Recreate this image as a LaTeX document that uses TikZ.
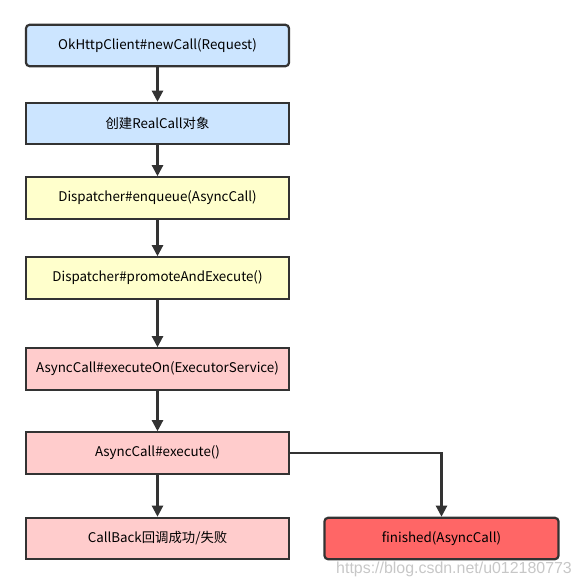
\documentclass[tikz,border=0pt]{standalone}
\usepackage{fontspec}
\setmainfont{Noto Sans CJK SC}
\newfontfamily\wmfont{Liberation Sans}
\usetikzlibrary{arrows.meta}
\definecolor{callblue}{HTML}{CCE5FF}
\definecolor{dispyellow}{HTML}{FFFFCC}
\definecolor{asyncpink}{HTML}{FFCCCC}
\definecolor{finishred}{HTML}{FF6666}
\definecolor{edge}{HTML}{333333}
\begin{document}
\begin{tikzpicture}[x=0.3mm,y=-0.3mm,
  box/.style={draw=edge, line width=1.9pt, minimum width=78.9mm, minimum height=12.4mm, font=\fontsize{11.4}{13}\selectfont, inner sep=0pt},
  flow/.style={draw=edge, line width=1.9pt, -{Triangle[length=3.3mm,width=3.3mm]}}]
\useasboundingbox (0,0) rectangle (583,586);
\node[box, rounded corners=3pt, fill=callblue] (a) at (157.5,45.5) {OkHttpClient\#newCall(Request)};
\node[box, fill=callblue] (b) at (157.5,123.5) {创建RealCall对象};
\node[box, fill=dispyellow] (c) at (157.5,198) {Dispatcher\#enqueue(AsyncCall)};
\node[box, fill=dispyellow] (d) at (157.5,278) {Dispatcher\#promoteAndExecute()};
\node[box, fill=asyncpink] (e) at (157.5,369) {AsyncCall\#executeOn(ExecutorService)};
\node[box, fill=asyncpink] (f) at (157.5,453) {AsyncCall\#execute()};
\node[box, fill=asyncpink] (g) at (157.5,538.5) {CallBack回调成功/失败};
\node[box, rounded corners=3pt, fill=finishred, minimum width=70.2mm] (h) at (441.5,538.5) {finished(AsyncCall)};
\node[text=black!22, font=\wmfont\fontsize{13.6}{15}\selectfont, anchor=east] (wm) at (576,569) {https://blog.csdn.net/u012180773};
\draw[flow] (a) -- (b);
\draw[flow] (b) -- (c);
\draw[flow] (c) -- (d);
\draw[flow] (d) -- (e);
\draw[flow] (e) -- (f);
\draw[flow] (f) -- (g);
\draw[flow] (f.east) -| (h.north);
\end{tikzpicture}
\end{document}
